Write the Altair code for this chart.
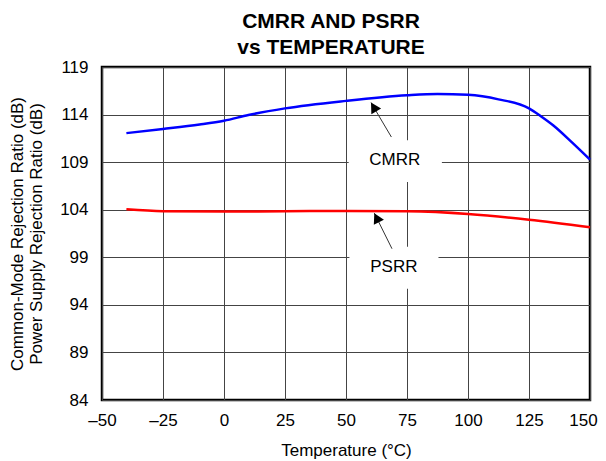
import math
import altair as alt
import pandas as pd

# ---- data ----
cmrr_temp = [-40, -25, -10, 0, 10, 25, 50, 75, 87.5, 100, 112.5, 125, 130, 135, 142.5, 150]
cmrr_db = [112.05, 112.48, 112.95, 113.35, 113.95, 114.65, 115.44, 116.03, 116.17, 116.08,
           115.6, 114.65, 113.8, 112.85, 111.1, 109.26]

psrr_temp = [-40, -25, 0, 25, 50, 75, 100, 125, 150]
psrr_db = [104.05, 103.85, 103.8, 103.85, 103.87, 103.83, 103.55, 102.95, 102.15]

x_ticks = [-50, -25, 0, 25, 50, 75, 100, 125, 150]
y_ticks = [84, 89, 94, 99, 104, 109, 114, 119]

ann_names = ["CMRR", "PSRR"]
ann_text_x = [70.0, 69.6]
ann_text_y = [109.2, 98.0]
box_x1 = [51.1, 51.4]
box_x2 = [89.3, 87.9]
box_y1 = [106.9, 95.7]
box_y2 = [111.3, 100.1]
tip_x = [60.25, 61.6]
tip_y = [115.26, 103.64]
tail_x = [68.6, 68.85]
tail_y = [111.64, 99.9]

W, H = 488, 333
X_DOM = [-50, 150]
Y_DOM = [84, 119]
FONT = "Liberation Sans"

lines = pd.DataFrame(
    {"t": cmrr_temp + psrr_temp,
     "v": cmrr_db + psrr_db,
     "s": ["CMRR"] * len(cmrr_temp) + ["PSRR"] * len(psrr_temp)}
)

px_x = W / (X_DOM[1] - X_DOM[0])
px_y = H / (Y_DOM[1] - Y_DOM[0])
angles = []
for i in range(len(ann_names)):
    dx = (tip_x[i] - tail_x[i]) * px_x
    up = (tip_y[i] - tail_y[i]) * px_y
    angles.append(math.degrees(math.atan2(dx, up)) % 360)

ann = pd.DataFrame({
    "name": ann_names, "tx": ann_text_x, "ty": ann_text_y,
    "bx1": box_x1, "bx2": box_x2, "by1": box_y1, "by2": box_y2,
    "px": tip_x, "py": tip_y, "qx": tail_x, "qy": tail_y, "ang": angles,
})

xscale = alt.Scale(domain=X_DOM, nice=False, zero=False)
yscale = alt.Scale(domain=Y_DOM, nice=False, zero=False)
xaxis = alt.Axis(values=x_ticks, title="Temperature (°C)", labelPadding=12, titlePadding=14,
                 labelExpr="datum.value < 0 ? '–' + abs(datum.value) : datum.label",
                 labelOffset={"condition": {"test": "datum.value === 150", "value": -7}, "value": 0},
                 labelFlush=False)
yaxis = alt.Axis(values=y_ticks,
                 title=["Common-Mode Rejection Ratio (dB)", "Power Supply Rejection Ratio (dB)"],
                 labelPadding=14, titlePadding=14, titleLineHeight=19)


def X(f):
    return alt.X(f, type="quantitative", scale=xscale, axis=xaxis)


def Y(f):
    return alt.Y(f, type="quantitative", scale=yscale, axis=yaxis)


line_layer = alt.Chart(lines).mark_line(strokeWidth=2.5, interpolate="monotone").encode(
    x=X("t"), y=Y("v"),
    color=alt.Color("s:N", scale=alt.Scale(domain=["CMRR", "PSRR"], range=["#0000FF", "#FF0000"]),
                    legend=None),
    detail="s:N",
)

boxes = alt.Chart(ann).mark_rect(color="white").encode(
    x=X("bx1"), x2="bx2", y=Y("by1"), y2="by2"
)

rules = alt.Chart(ann).mark_rule(color="#333333", strokeWidth=1).encode(
    x=X("qx"), y=Y("qy"), x2="px", y2="py"
)

heads = alt.Chart(ann).mark_point(
    shape="M0,0L-0.55,1L0.55,1Z", filled=True, color="black", size=420, opacity=1, strokeWidth=0
).encode(x=X("px"), y=Y("py"), angle=alt.Angle("ang:Q", scale=None))

texts = alt.Chart(ann).mark_text(font=FONT, fontSize=17, color="black").encode(
    x=X("tx"), y=Y("ty"), text="name:N"
)

chart = alt.layer(boxes, line_layer, rules, heads, texts).properties(
    width=W, height=H,
    background="white",
    padding={"left": 94, "top": 59, "right": 8, "bottom": 61},
    autosize=alt.AutoSizeParams(type="none"),
    title=alt.TitleParams(text=["CMRR AND PSRR", "vs TEMPERATURE"], font=FONT, fontSize=21,
                          fontWeight="bold", color="black", anchor="middle", dx=-15,
                          lineHeight=26, offset=0),
).configure_view(stroke="black", strokeWidth=2.5).configure_axis(
    grid=True, gridColor="#444444", gridWidth=1, gridOpacity=1, domain=False, ticks=False,
    labelFont=FONT, labelFontSize=17, labelColor="black",
    titleFont=FONT, titleFontSize=17, titleFontWeight="normal", titleColor="black",
)

chart.save("out.html", embed_options={"renderer": "svg", "actions": False})
